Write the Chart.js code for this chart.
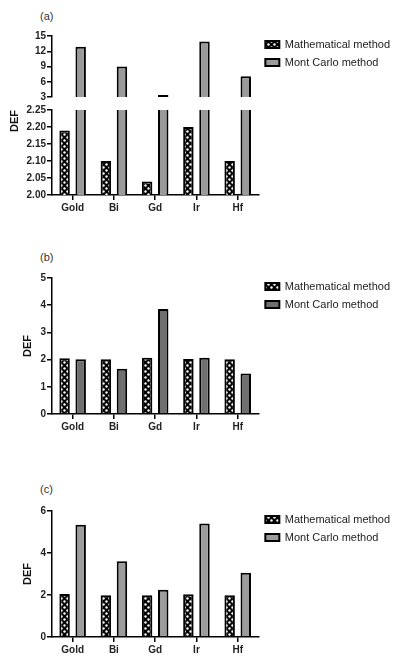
<!DOCTYPE html>
<html>
<head>
<meta charset="utf-8">
<script src="https://cdn.jsdelivr.net/npm/chart.js@4.4.0/dist/chart.umd.min.js"></script>
<style>
body { margin: 0; width: 400px; height: 659px; overflow: hidden; background: #fff; font-family: "Liberation Sans", Arial, sans-serif; }
canvas { position: absolute; left: 0; }
.tag { position: absolute; left: 40px; font-size: 11px; color: #333; }
</style>
</head>
<body>
<div class="tag" style="top:10px">(a)</div>
<canvas id="aTop" width="400" height="78" style="top:28px"></canvas>
<canvas id="aBot" width="400" height="117" style="top:100px"></canvas>
<div class="tag" style="top:251px">(b)</div>
<canvas id="b" width="400" height="168" style="top:268px"></canvas>
<div class="tag" style="top:483px">(c)</div>
<canvas id="c" width="400" height="158" style="top:501px"></canvas>
<script>
// values
var metals = ['Gold', 'Bi', 'Gd', 'Ir', 'Hf'];

var mathA = [2.19, 2.10, 2.04, 2.20, 2.10];
var monteA = [12.9, 9.0, 3.4, 13.9, 7.1];
var ticksAHigh = [3, 6, 9, 12, 15];
var ticksALow = [2.00, 2.05, 2.10, 2.15, 2.20, 2.25];

var mathB = [2.05, 2.01, 2.07, 2.02, 2.01];
var monteB = [2.01, 1.66, 3.86, 2.07, 1.49];
var ticksB = [0, 1, 2, 3, 4, 5];

var mathC = [2.05, 1.99, 1.99, 2.03, 1.99];
var monteC = [5.34, 3.61, 2.25, 5.40, 3.06];
var ticksC = [0, 2, 4, 6];

Chart.defaults.font.family = '"Liberation Sans", Arial, sans-serif';
Chart.defaults.animation = false;

// black bars with white dots
var tile = document.createElement('canvas');
tile.width = 6; tile.height = 6;
var tc = tile.getContext('2d');
tc.fillStyle = '#000';
tc.fillRect(0, 0, 6, 6);
tc.fillStyle = '#fff';
tc.beginPath(); tc.arc(1.5, 1.5, 1.2, 0, Math.PI * 2); tc.fill();
tc.beginPath(); tc.arc(4.5, 4.5, 1.2, 0, Math.PI * 2); tc.fill();
var dots = tc.createPattern(tile, 'repeat');

function sets(math, monte, grey) {
    return [
        { label: 'Mathematical method', data: math, backgroundColor: dots, borderColor: '#000', borderWidth: 2, clip: 0 },
        { label: 'Mont Carlo method', data: monte, backgroundColor: grey, borderColor: '#000', borderWidth: 2, clip: 0 }
    ];
}

function yScale(ticks, digits, width, title) {
    return {
        min: ticks[0],
        max: ticks[ticks.length - 1],
        afterBuildTicks: function (s) { s.ticks = ticks.map(function (v) { return { value: v }; }); },
        afterFit: function (s) { s.width = width; },
        border: { color: '#000', width: 1.5 },
        grid: { drawOnChartArea: false, color: '#000', lineWidth: 1.5, tickLength: 5 },
        ticks: {
            color: '#222', padding: 1, autoSkip: false, font: { size: 10, weight: 'bold' },
            callback: function (v) { return v.toFixed(digits); }
        },
        title: title || { display: false }
    };
}

function xScale(show) {
    return {
        display: show,
        afterFit: function (s) { if (show) s.height = 22; },
        border: { color: '#000', width: 1.5 },
        grid: { offset: false, drawOnChartArea: false, color: '#000', lineWidth: 1.5, tickLength: 5 },
        ticks: { color: '#222', padding: 2, maxRotation: 0, font: { size: 10, weight: 'bold' } }
    };
}

function legend(show) {
    return {
        display: show, position: 'right', align: 'start', maxWidth: 160,
        labels: { boxWidth: 14, boxHeight: 7, padding: 7, color: '#222', font: { size: 11 } }
    };
}

// lift the legend a little above the top of the plot
var legendNudge = {
    id: 'legendNudge',
    beforeDraw: function (chart) {
        if (chart.legend && chart.options.plugins.legend.display) {
            chart.legend.top = chart.chartArea.top - 4;
        }
    }
};

function makeChart(id, datasets, x, y, showLegend, pad) {
    return new Chart(document.getElementById(id), {
        type: 'bar',
        data: { labels: metals, datasets: datasets },
        options: {
            responsive: false,
            events: [],
            barPercentage: 0.65,
            categoryPercentage: 0.78,
            layout: { padding: pad },
            plugins: { legend: legend(showLegend), tooltip: { enabled: false } },
            scales: { x: x, y: y }
        },
        plugins: [legendNudge]
    });
}

var defTitle = { display: true, text: 'DEF', color: '#111', padding: 4, font: { size: 11, weight: 'bold' } };

// (a) broken axis: upper part 3-15, lower part 2.00-2.25
var aTop = makeChart('aTop', sets(mathA.map(function () { return null; }), monteA, '#9a9a9a'),
    xScale(false), yScale(ticksAHigh, 0, 48), true, { top: 8, bottom: 9, left: 4 });
var rightGap = aTop.width - aTop.chartArea.right;
makeChart('aBot', sets(mathA, monteA, '#9a9a9a'),
    xScale(true), yScale(ticksALow, 2, 48, Object.assign({}, defTitle, { align: 'end' })), false,
    { top: 10, left: 4, right: rightGap });

// (b)
makeChart('b', sets(mathB, monteB, '#6f6f6f'),
    xScale(true), yScale(ticksB, 0, 35, defTitle), true, { top: 10, left: 17 });

// (c)
makeChart('c', sets(mathC, monteC, '#9c9c9c'),
    xScale(true), yScale(ticksC, 0, 35, defTitle), true, { top: 10, left: 17 });
</script>
</body>
</html>
